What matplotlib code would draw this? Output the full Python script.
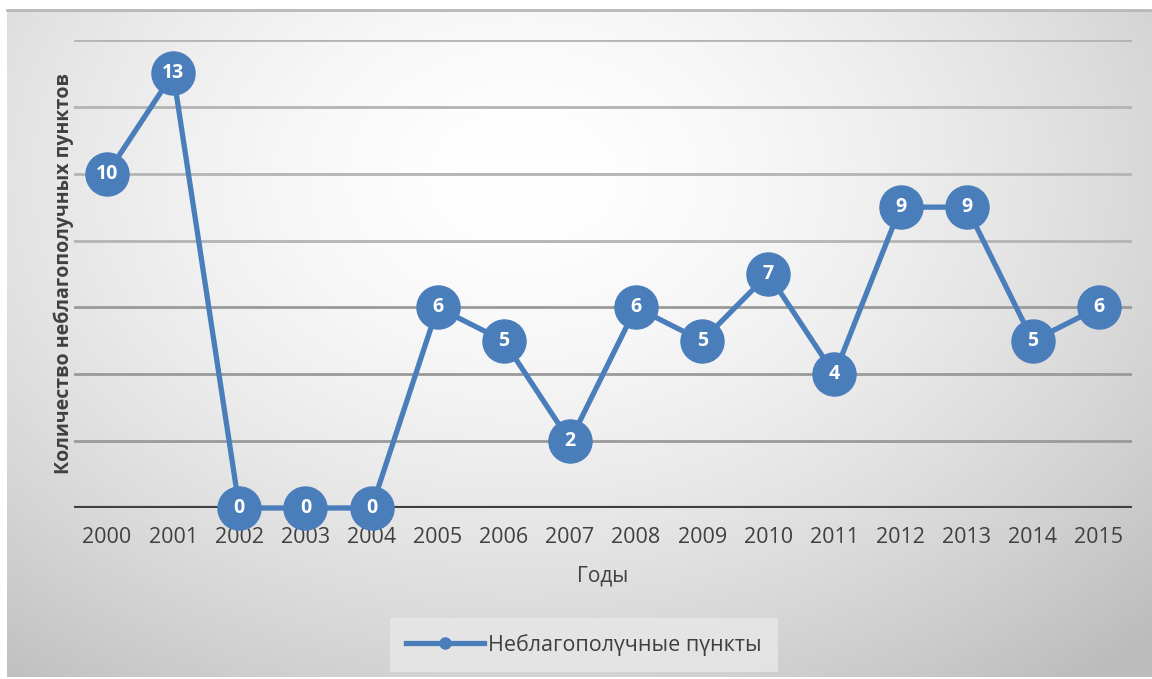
import numpy as np
import matplotlib.pyplot as plt
from matplotlib.lines import Line2D

years = ["2000", "2001", "2002", "2003", "2004", "2005", "2006", "2007",
         "2008", "2009", "2010", "2011", "2012", "2013", "2014", "2015"]
counts = [10, 13, 0, 0, 0, 6, 5, 2, 6, 5, 7, 4, 9, 9, 5, 6]

series_name = "Неблагополүчные пүнкты"
x_title = "Годы"
y_title = "Количество неблагополучных пунктов"

blue = "#4a7ebb"
text_col = "#404040"

plt.rcParams["font.family"] = ["Open Sans", "DejaVu Sans"]

fig = plt.figure(figsize=(11.52, 6.79), dpi=100)

# chart area background: soft radial gradient, white in the middle, grey at the edges
bg = fig.add_axes([7 / 1152, 2 / 679, 1145 / 1152, 667 / 679])
gx, gy = np.meshgrid(np.linspace(0, 1, 600), np.linspace(0, 1, 400))
r = np.sqrt(((gx - 0.45) / 0.75) ** 2 + ((gy - 0.25) / 0.95) ** 2)
shade = np.clip(1.0 - 0.25 * r ** 1.6, 0.74, 1.0)
bg.imshow(np.dstack([shade, shade, shade]), extent=[0, 1, 0, 1], aspect="auto",
          origin="upper", interpolation="bilinear")
bg.set_xlim(0, 1)
bg.set_ylim(0, 1)
bg.axis("off")
bg.plot([0, 1], [1, 1], color="#b8b8b8", lw=2, clip_on=False)

ax = fig.add_axes([74 / 1152, 1 - 508 / 679, (1132 - 74) / 1152, (508 - 40) / 679])
ax.patch.set_alpha(0)
x = np.arange(len(years))
ax.set_xlim(-0.5, len(years) - 0.5)
ax.set_ylim(0, 14)

for yv in range(2, 15, 2):
    ax.axhline(yv, color="#b4b4b4" if yv > 6 else "#9a9a9a", lw=2, zorder=1)
ax.axhline(0, color="#404040", lw=3, zorder=2)

ax.plot(x, counts, color=blue, lw=3.8, marker="o", markersize=31,
        markerfacecolor=blue, markeredgecolor=blue, zorder=3, clip_on=False)
for xi, v in zip(x, counts):
    ax.text(xi, v, str(v), color="white", fontsize=14, fontweight="bold",
            ha="center", va="center", zorder=4)

for s in ax.spines.values():
    s.set_visible(False)
ax.set_yticks([])
ax.set_xticks(x)
ax.set_xticklabels(years, fontsize=15.5, color=text_col)
ax.tick_params(axis="x", length=0, pad=14)
ax.set_xlabel(x_title, fontsize=15, color=text_col, labelpad=12)
ax.set_ylabel(y_title, fontsize=14, color=text_col, fontweight="bold", labelpad=0)

handle = Line2D([], [], color=blue, lw=3.8, marker="o", markersize=8)
leg = fig.legend([handle], [series_name], loc="center",
                 bbox_to_anchor=(584 / 1152, 1 - 645 / 679), frameon=True,
                 fontsize=15.5, handlelength=3.6, borderpad=0.35, handletextpad=0.2,
                 borderaxespad=0)
leg.get_frame().set_facecolor("#e8e8e8")
leg.get_frame().set_edgecolor("none")
leg.get_frame().set_boxstyle("square", pad=0.4)
for t in leg.get_texts():
    t.set_color(text_col)

fig.savefig("out.png", dpi=100)
